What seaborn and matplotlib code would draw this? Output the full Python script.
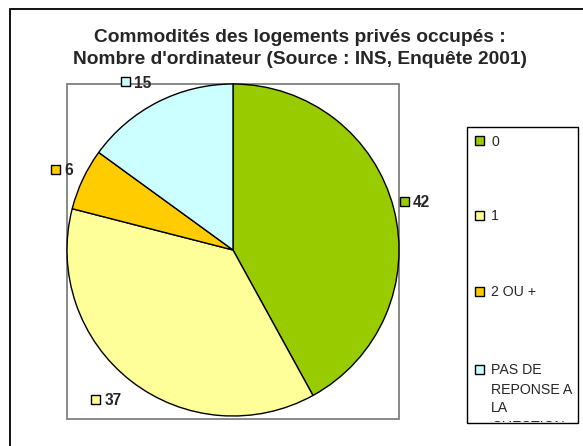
import matplotlib
matplotlib.use("Agg")
import matplotlib.pyplot as plt
from matplotlib.patches import Rectangle
from matplotlib.transforms import Bbox, TransformedBbox
import numpy as np
import seaborn as sns

# ---- data ----
categories = ["0", "1", "2 OU +", "PAS DE\nREPONSE A\nLA\nQUESTION"]
values = [42, 37, 6, 15]
colors = ["#99CC00", "#FFFF99", "#FFCC00", "#CCFFFF"]
title = "Commodités des logements privés occupés :\nNombre d'ordinateur (Source : INS, Enquête 2001)"

sns.set_theme(style="white")
plt.rcParams["font.family"] = ["Liberation Sans", "DejaVu Sans"]

W, H = 583, 446
fig = plt.figure(figsize=(W / 100, H / 100), dpi=100)
ax = fig.add_axes([0, 0, 1, 1])
ax.set_xlim(0, W)
ax.set_ylim(0, H)
ax.set_axis_off()

def Y(y):  # image pixel row -> data y
    return H - y

# outer chart frame (only top and left visible)
ax.add_patch(Rectangle((10, -20), W + 40, Y(9) + 20, fill=False,
                       edgecolor="black", lw=1.3, zorder=1))

# plot area box
cx, cy, r = 233, 250, 166
ax.add_patch(Rectangle((67, Y(419)), 399 - 67, 419 - 84, fill=False,
                       edgecolor="#808080", lw=1.3, zorder=1))

wedges, _ = ax.pie(values, colors=colors, startangle=90, counterclock=False,
                   center=(cx, Y(cy)), radius=r, frame=True,
                   wedgeprops=dict(edgecolor="black", linewidth=1.0))
for w in wedges:
    w.set_zorder(2)
ax.set_xlim(0, W)
ax.set_ylim(0, H)
ax.set_axis_off()

# data labels (square marker + bold value), placed around mid angles
label_pos = [(15.9, 1.074), (-132.6, 1.22), (155.6, 1.174), (122.5, 1.2)]
sq = 9
for v, c, (ang, rr) in zip(values, colors, label_pos):
    a = np.deg2rad(ang)
    mx = cx + rr * r * np.cos(a)
    my = Y(cy) + rr * r * np.sin(a)
    ax.add_patch(Rectangle((mx - sq / 2, my - sq / 2), sq, sq, facecolor=c,
                           edgecolor="black", lw=1.0, zorder=4))
    ax.text(mx + sq / 2 + 4, my, str(v), fontsize=11.2, fontweight="bold",
            ha="left", va="center_baseline", zorder=4)

# title
ax.text(300, Y(35), title.split("\n")[0], fontsize=13.8, fontweight="bold",
        ha="center", va="center_baseline", zorder=4)
ax.text(300, Y(57), title.split("\n")[1], fontsize=13.8, fontweight="bold",
        ha="center", va="center_baseline", zorder=4)

# legend box
lx0, ly0, lx1, ly1 = 467, 127, 578, 423
leg_box = Rectangle((lx0, Y(ly1)), lx1 - lx0, ly1 - ly0, facecolor="white",
                    edgecolor="black", lw=1.0, zorder=3)
ax.add_patch(leg_box)
clip = TransformedBbox(Bbox.from_extents(lx0, Y(ly1) + 1, lx1, Y(ly0)), ax.transData)
leg_y = [140, 215, 291, 369]
for lab, c, yy in zip(categories, colors, leg_y):
    ax.add_patch(Rectangle((479.5 - sq / 2, Y(yy) - sq / 2), sq, sq, facecolor=c,
                           edgecolor="black", lw=1.0, zorder=4))
    for i, line in enumerate(lab.split("\n")):
        t = ax.text(491, Y(yy + 19 * i), line, fontsize=10.2, ha="left",
                    va="center_baseline", zorder=4)
        t.set_clip_on(True)
        t.set_clip_box(clip)

fig.savefig("out.png", dpi=100)
